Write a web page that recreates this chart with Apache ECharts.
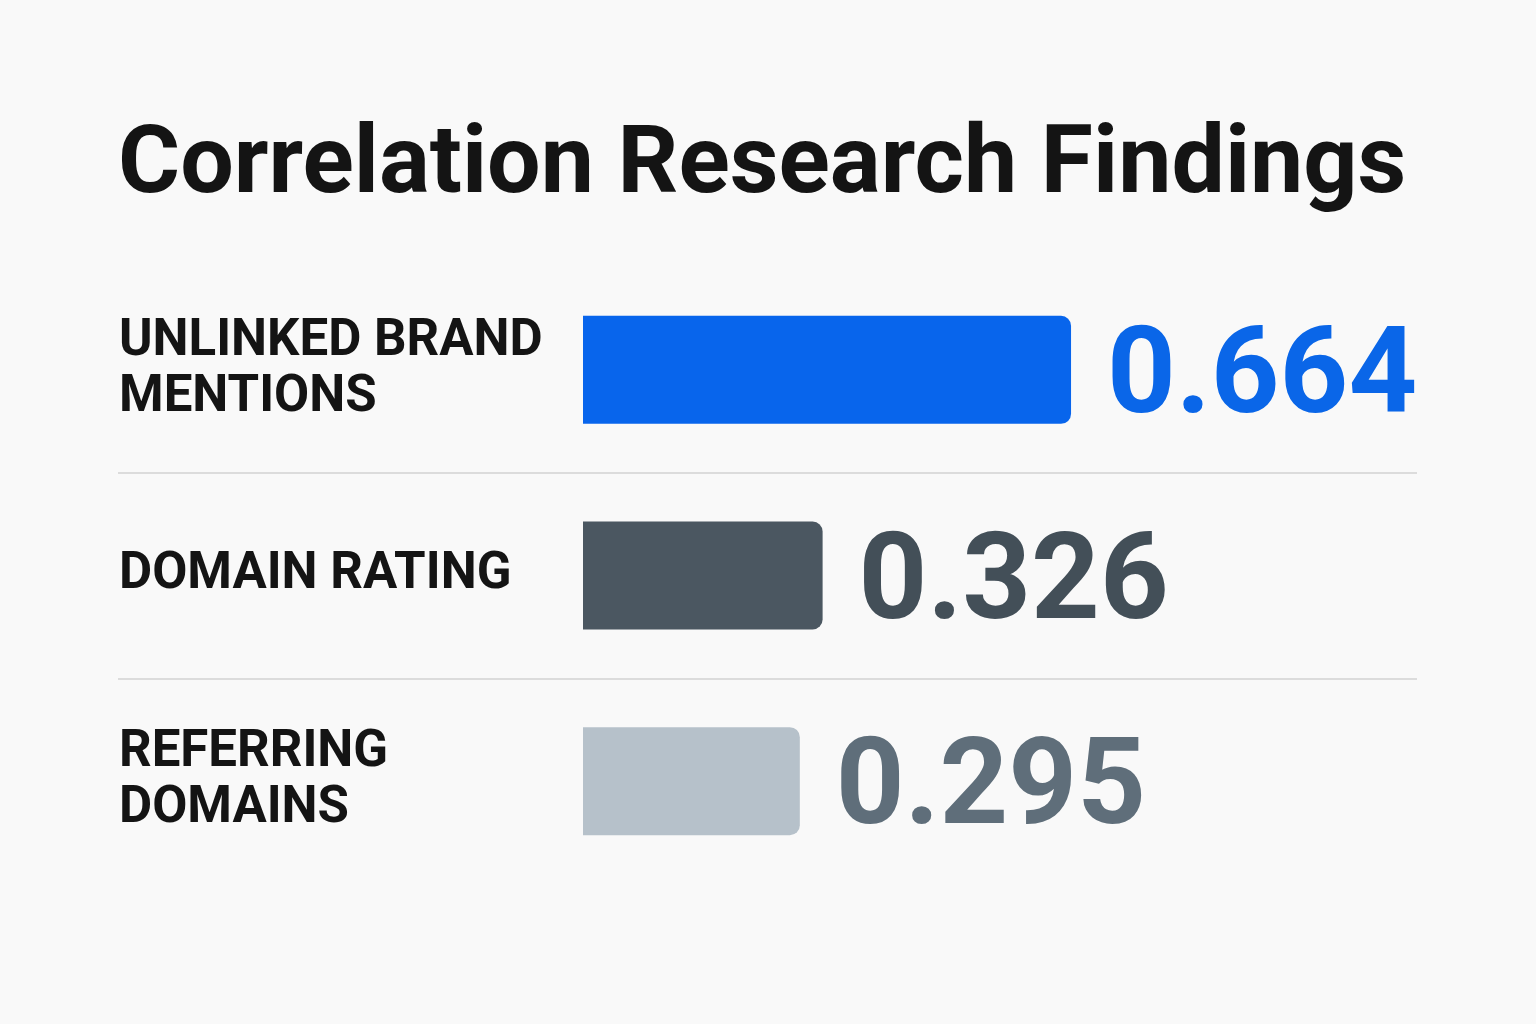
<!DOCTYPE html>
<html>
<head>
<meta charset="utf-8">
<script src="https://cdn.jsdelivr.net/npm/echarts@6/dist/echarts.min.js"></script>
<style>
  html, body { margin: 0; padding: 0; background: #f9f9f9; }
  #main { width: 1536px; height: 1024px; }
</style>
</head>
<body>
<div id="main"></div>
<script>
// data
var categories = ['UNLINKED BRAND MENTIONS', 'DOMAIN RATING', 'REFERRING DOMAINS'];
var values = [0.664, 0.326, 0.295];
var barColors = ['#0865ec', '#4b5761', '#b6c1ca'];
var labelColors = ['#0a66e8', '#434f58', '#5f6e7a'];

var myChart = echarts.init(document.getElementById('main'));

var barData = values.map(function (v, i) {
    return {
        value: v,
        itemStyle: { color: barColors[i] },
        label: { color: labelColors[i] }
    };
});

var option = {
    backgroundColor: '#f9f9f9',
    title: {
        text: 'Correlation Research Findings',
        left: 113,
        top: 116,
        textStyle: {
            fontFamily: 'Roboto',
            fontWeight: 'bold',
            fontSize: 95,
            color: '#141414'
        }
    },
    grid: [
        // bars
        { left: 583, right: 218, top: 267, height: 617 },
        // separator lines only
        { left: 118, right: 119, top: 267, height: 617 }
    ],
    xAxis: [{
        gridIndex: 0,
        type: 'value',
        min: 0,
        max: 1,
        show: false
    }, {
        gridIndex: 1,
        type: 'value',
        show: false
    }],
    yAxis: [{
        gridIndex: 0,
        type: 'category',
        inverse: true,
        data: categories,
        axisLine: { show: false },
        axisTick: { show: false },
        splitLine: { show: false },
        axisLabel: {
            align: 'left',
            margin: 464,
            width: 450,
            overflow: 'break',
            fontFamily: 'Roboto',
            fontWeight: 'bold',
            fontSize: 51,
            lineHeight: 56,
            color: '#141414'
        }
    }, {
        gridIndex: 1,
        type: 'category',
        inverse: true,
        data: categories,
        axisLine: { show: false },
        axisTick: { show: false },
        axisLabel: { show: false },
        splitLine: {
            show: true,
            showMinLine: false,
            showMaxLine: false,
            lineStyle: { color: '#dcdcdc', width: 2 }
        }
    }],
    series: [{
        name: 'Correlation',
        type: 'bar',
        xAxisIndex: 0,
        yAxisIndex: 0,
        data: barData,
        barWidth: 108,
        itemStyle: {
            borderRadius: [0, 10, 10, 0]
        },
        label: {
            show: true,
            position: 'right',
            distance: 36,
            offset: [0, 12],
            fontFamily: 'Roboto',
            fontWeight: 'bold',
            fontSize: 120,
            formatter: function (p) { return p.value.toFixed(3); }
        }
    }]
};
myChart.setOption(option);

window.onresize = function () {
    myChart.resize();
};
</script>
</body>
</html>
